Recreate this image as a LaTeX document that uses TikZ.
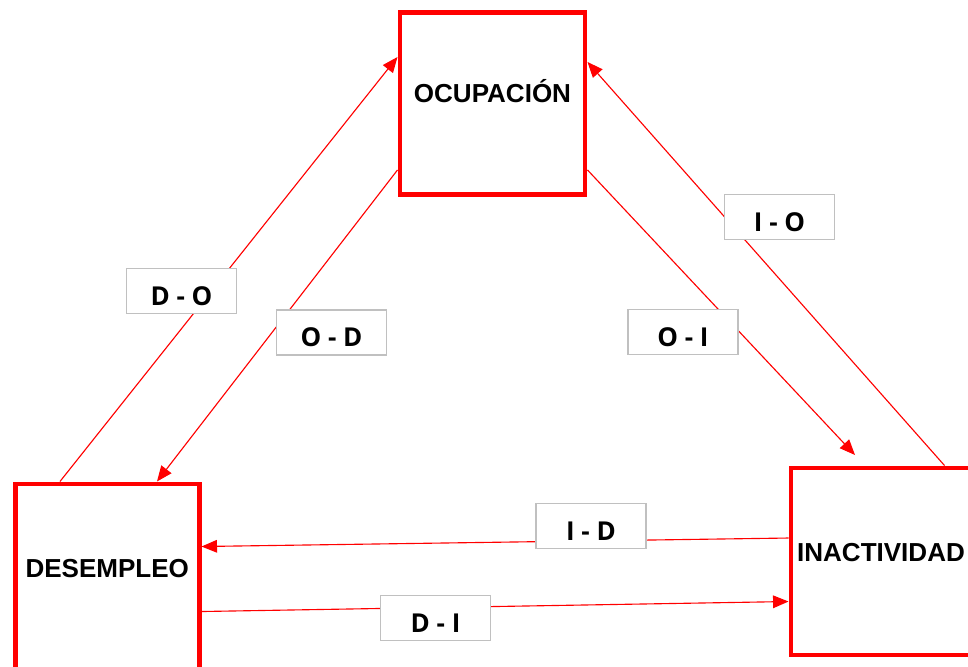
\documentclass[tikz,border=0pt]{standalone}
\usepackage{fontspec}
\setmainfont{Liberation Sans}
\newfontfamily\etiqfont{Open Sans}
\usepackage{tikz}
\usetikzlibrary{arrows.meta, calc}
\definecolor{rojo}{RGB}{255, 0, 0}
\definecolor{grisborde}{RGB}{192, 192, 192}

\begin{document}
\begin{tikzpicture}[x=0.025cm, y=-0.025cm,
    estado/.style={draw=rojo, line width=3.5pt, fill=white, inner sep=0pt},
    nombre/.style={font=\bfseries\fontsize{18.5}{21}\selectfont},
    etiqueta/.style={draw=grisborde, line width=1.2pt, fill=white, inner sep=0pt,
        minimum width=2.75cm, minimum height=1.13cm,
        text height=20pt, text depth=0pt,
        font=\etiqfont\bfseries\fontsize{18.5}{21}\selectfont},
    flujo/.style={rojo, line width=0.8pt, -{Triangle[length=11pt, width=9pt]}}]
    \useasboundingbox (0,0) rectangle (968,666);

    % los tres estados
    \node[estado, minimum width=4.625cm, minimum height=4.54cm,
        label={[nombre, yshift=0.3cm]center:OCUPACIÓN}] (ocup) at (492.5, 103.25) {};
    \node[estado, minimum width=4.59cm, minimum height=4.7cm,
        label={[nombre, yshift=0.24cm]center:DESEMPLEO}] (desem) at (107.25, 578) {};
    \node[estado, minimum width=4.5cm, minimum height=4.675cm,
        label={[nombre, yshift=0.22cm]center:INACTIVIDAD}] (inact) at (881, 561.5) {};

    % flujos entre estados
    \coordinate (oi) at ($(inact.north west)+(66.5,-10.5)$);
    \draw[flujo] ($(desem.north west)+(47,0)$) -- ($(ocup.north west)+(0,47)$);
    \draw[flujo] ($(ocup.north west)+(0,160)$) -- ($(desem.north west)+(144,0)$);
    \draw[flujo] ($(ocup.north east)+(0,160)$) -- (oi);
    \draw[flujo] ($(inact.north west)+(156,0)$) -- ($(ocup.north east)+(0,52)$);
    \draw[flujo] ($(inact.north west)+(0,72.5)$) -- ($(desem.north east)+(0,65)$);
    \draw[flujo] ($(desem.north east)+(0,130)$) -- ($(inact.north west)+(0,136)$);

    % etiquetas de los flujos
    \node[etiqueta] (lDO) at (181.5, 291) {D - O};
    \node[etiqueta] (lOD) at (331.5, 332.5) {O - D};
    \node[etiqueta] (lOI) at (683, 332) {O - I};
    \node[etiqueta] (lIO) at (779.5, 217) {I - O};
    \node[etiqueta] (lID) at (591, 526) {I - D};
    \node[etiqueta] (lDI) at (435.5, 618) {D - I};
\end{tikzpicture}
\end{document}
